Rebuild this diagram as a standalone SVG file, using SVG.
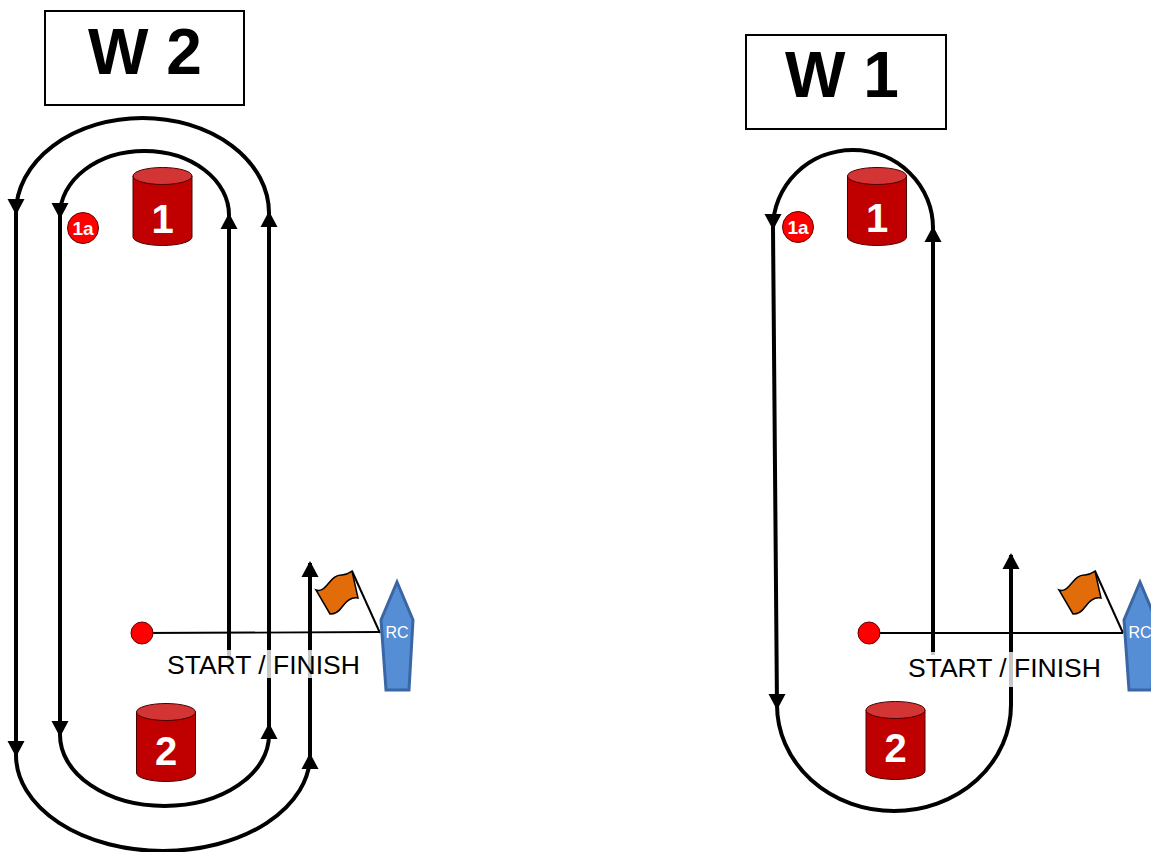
<svg xmlns="http://www.w3.org/2000/svg" xmlns:xlink="http://www.w3.org/1999/xlink" width="1151" height="852" viewBox="0 0 1151 852">
<style>
.title{font-family:"Liberation Sans",Arial,sans-serif;font-weight:bold;font-size:64px;fill:#000}
.box{fill:#fff;stroke:#000;stroke-width:2}
.course{fill:none;stroke:#000;stroke-width:4}
.sline{fill:none;stroke:#000;stroke-width:1.8}
.cylbody{fill:#c00000;stroke:#4a0000;stroke-width:1}
.cyltop{fill:#d33535;stroke:#4a0000;stroke-width:1}
.num{font-family:"Liberation Sans",Arial,sans-serif;font-weight:bold;font-size:40px;fill:#fff;text-anchor:middle}
.mark{fill:#ff0000;stroke:#600;stroke-width:1}
.marktxt{font-family:"Liberation Sans",Arial,sans-serif;font-weight:bold;font-size:19px;fill:#fff;text-anchor:middle}
.sf{font-family:"Liberation Sans",Arial,sans-serif;font-size:26.5px;fill:#000}
.sfbg{fill:#fff;fill-opacity:0.78}
.flag{fill:#e36c0a;stroke:#000;stroke-width:1.5}
.pole{stroke:#000;stroke-width:2}
.boat{fill:#558ed5;stroke:#3a66a3;stroke-width:3}
.rc{font-family:"Liberation Sans",Arial,sans-serif;font-size:16px;fill:#fff}
</style>
<defs>
<path id="ah" d="M0,0 L-8.5,-16 L8.5,-16 Z" fill="#000"/>
<g id="cyl">
<path class="cylbody" d="M-29.5,0 L-29.5,61 A29.5,8.5 0 0 0 29.5,61 L29.5,0 Z"/>
<ellipse class="cyltop" cx="0" cy="0" rx="29.5" ry="8.5"/>
</g>
</defs>
<rect width="1151" height="852" fill="#fff"/>

<g id="title-w2">
<rect class="box" x="45" y="11" width="199" height="94"/>
<text class="title" x="145" y="74" text-anchor="middle">W 2</text>
</g>
<g id="title-w1">
<rect class="box" x="746" y="35" width="200" height="94"/>
<text class="title" x="842" y="97" text-anchor="middle">W 1</text>
</g>

<g id="connectors">
<!-- W2 course -->
<path class="course" d="M229,660 L229,215"/>
<path class="course" d="M229,215 A84.5,64 0 0 0 60,215 L60,735"/>
<path class="course" d="M60,735 A104.5,71 0 0 0 269,735 L269,213"/>
<path class="course" d="M269,213 A126.5,95 0 0 0 16,213 L16,755"/>
<path class="course" d="M16,755 A147,96 0 0 0 310,755 L310,563"/>
<use xlink:href="#ah" transform="translate(60,219)"/>
<use xlink:href="#ah" transform="translate(16,215)"/>
<use xlink:href="#ah" transform="translate(229,213) rotate(180)"/>
<use xlink:href="#ah" transform="translate(269,211) rotate(180)"/>
<use xlink:href="#ah" transform="translate(60,737)"/>
<use xlink:href="#ah" transform="translate(16,757)"/>
<use xlink:href="#ah" transform="translate(269,723) rotate(180)"/>
<use xlink:href="#ah" transform="translate(310,753) rotate(180)"/>
<use xlink:href="#ah" transform="translate(310,561) rotate(180)"/>
<!-- W2 start line -->
<path class="sline" d="M142,633 L380,632"/>
<!-- W1 course -->
<path class="course" d="M933,655 L933,228"/>
<path class="course" d="M933,228 A80,78 0 0 0 773,228 L777,707"/>
<path class="course" d="M777,705 A117,106 0 0 0 1011,705 L1011,555"/>
<use xlink:href="#ah" transform="translate(773,230)"/>
<use xlink:href="#ah" transform="translate(933,226) rotate(180)"/>
<use xlink:href="#ah" transform="translate(777,710)"/>
<use xlink:href="#ah" transform="translate(1011,553) rotate(180)"/>
<!-- W1 start line -->
<path class="sline" d="M869,633 L1123,633"/>
</g>

<g id="mark1-w2">
<use xlink:href="#cyl" transform="translate(162.5,176)"/>
<text class="num" x="162.5" y="233">1</text>
</g>
<g id="mark1a-w2">
<circle class="mark" cx="83" cy="228" r="15.5"/>
<text class="marktxt" x="83" y="235">1a</text>
</g>
<g id="mark2-w2">
<use xlink:href="#cyl" transform="translate(166,712)"/>
<text class="num" x="166" y="765">2</text>
</g>
<g id="pin-w2">
<circle class="mark" cx="142" cy="633" r="11"/>
</g>
<g id="label-w2">
<rect class="sfbg" x="165" y="650" width="200" height="28"/>
<text class="sf" x="167" y="674">START / FINISH</text>
</g>
<g id="flag-w2">
<line class="pole" x1="352" y1="571" x2="380" y2="633"/>
<path class="flag" d="M316,590 C326,594 330,574 342,575 C347,575 349,573 352,571 L358,598 C352,597 347,600 342,607 C338,613 334,614 330,614 Z"/>
</g>
<g id="rc-w2">
<polygon class="boat" points="397,582 413,620 409,690 386,690 381,620"/>
<text class="rc" x="385.5" y="638">RC</text>
</g>

<g id="mark1-w1">
<use xlink:href="#cyl" transform="translate(877,176)"/>
<text class="num" x="877" y="232">1</text>
</g>
<g id="mark1a-w1">
<circle class="mark" cx="798" cy="227" r="15.5"/>
<text class="marktxt" x="798" y="234">1a</text>
</g>
<g id="mark2-w1">
<use xlink:href="#cyl" transform="translate(895.5,710)"/>
<text class="num" x="895.5" y="762">2</text>
</g>
<g id="pin-w1">
<circle class="mark" cx="869" cy="633" r="11"/>
</g>
<g id="label-w1">
<rect class="sfbg" x="905" y="652" width="200" height="35"/>
<text class="sf" x="908" y="677">START / FINISH</text>
</g>
<g id="flag-w1">
<line class="pole" x1="1095" y1="571" x2="1123" y2="633"/>
<path class="flag" d="M1059,590 C1069,594 1073,574 1085,575 C1090,575 1092,573 1095,571 L1101,598 C1095,597 1090,600 1085,607 C1081,613 1077,614 1073,614 Z"/>
</g>
<g id="rc-w1">
<polygon class="boat" points="1140,582 1156,620 1152,690 1129,690 1124,620"/>
<text class="rc" x="1128.5" y="638">RC</text>
</g>
</svg>
